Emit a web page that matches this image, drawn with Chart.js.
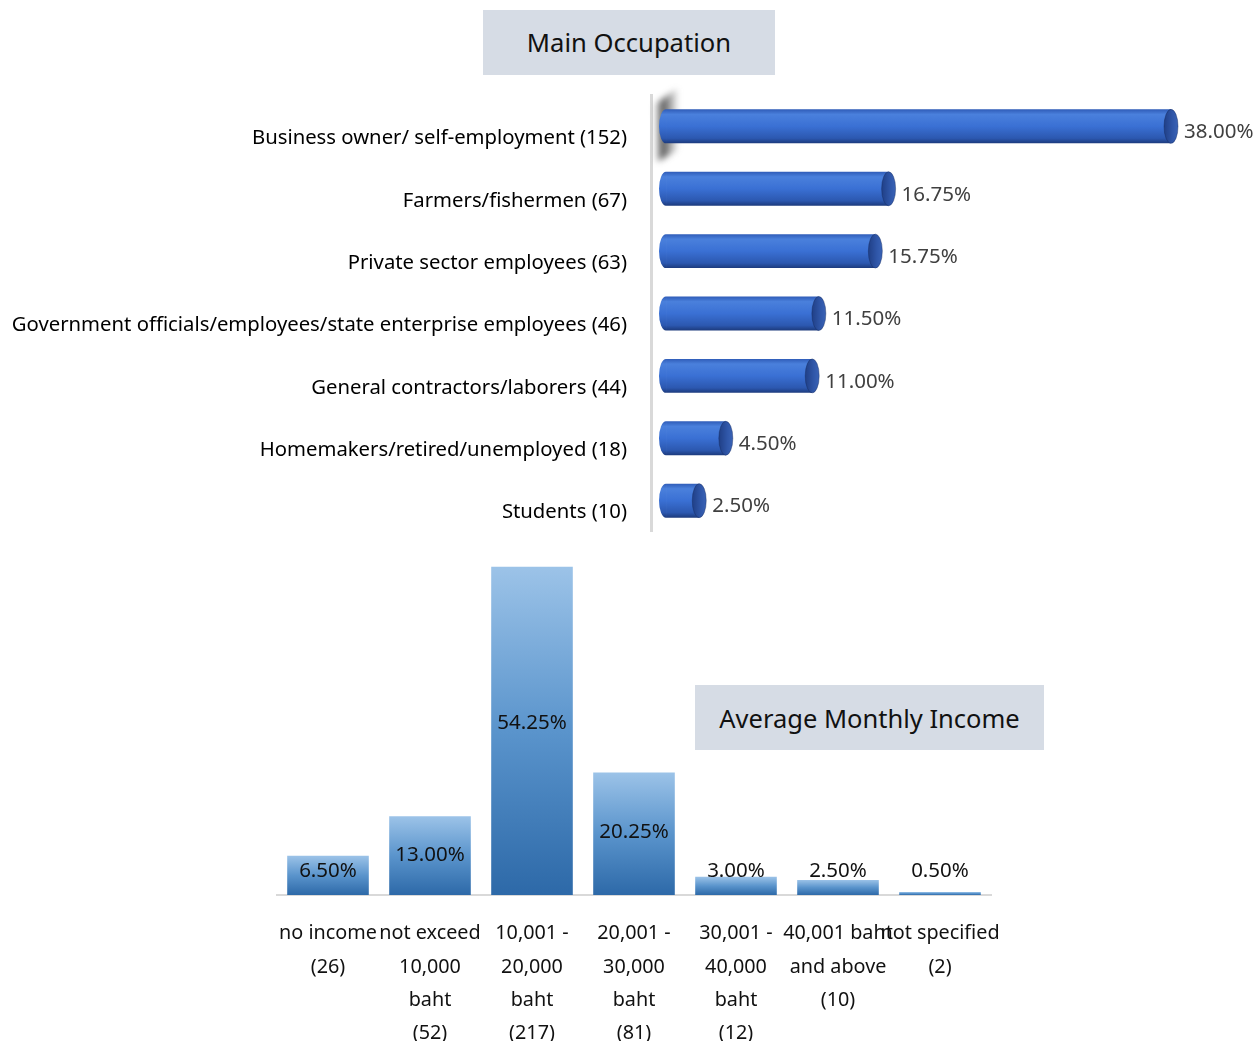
<!DOCTYPE html>
<html>
<head>
<meta charset="utf-8">
<script src="https://cdn.jsdelivr.net/npm/chart.js@4/dist/chart.umd.min.js"></script>
<style>
  body { margin: 0; background: #fff; font-family: "Noto Sans", sans-serif; }
  #wrap { position: relative; width: 1256px; height: 1041px; overflow: hidden; }
  .title-box {
    position: absolute; background: #d6dce5; color: #111;
    display: flex; align-items: center; justify-content: center;
  }
  #occTitle { left: 483px; top: 10px; width: 292px; height: 65px; font-size: 25.6px; }
  #incTitle { left: 695px; top: 685px; width: 349px; height: 65px; font-size: 25.5px; }
  #occWrap { position: absolute; left: 0; top: 59px; width: 1256px; height: 509px; }
  #incWrap { position: absolute; left: 0; top: 555px; width: 1256px; height: 486px; }
</style>
</head>
<body>
<div id="wrap">
  <div id="occWrap"><canvas id="occChart"></canvas></div>
  <div id="incWrap"><canvas id="incChart"></canvas></div>
  <div class="title-box" id="occTitle">Main Occupation</div>
  <div class="title-box" id="incTitle">Average Monthly Income</div>
</div>
<script>
"use strict";

// Main occupation (share of respondents, %)
const occLabels = [
  'Business owner/ self-employment (152)',
  'Farmers/fishermen (67)',
  'Private sector employees (63)',
  'Government officials/employees/state enterprise employees (46)',
  'General contractors/laborers (44)',
  'Homemakers/retired/unemployed (18)',
  'Students (10)'
];
const occValues = [38.00, 16.75, 15.75, 11.50, 11.00, 4.50, 2.50];

// Average monthly income (share of respondents, %)
const incLabels = [
  ['no income', '(26)'],
  ['not exceed', '10,000', 'baht', '(52)'],
  ['10,001 -', '20,000', 'baht', '(217)'],
  ['20,001 -', '30,000', 'baht', '(81)'],
  ['30,001 -', '40,000', 'baht', '(12)'],
  ['40,001 baht', 'and above', '(10)'],
  ['not specified', '(2)']
];
const incValues = [6.50, 13.00, 54.25, 20.25, 3.00, 2.50, 0.50];

const FONT = '"Noto Sans", sans-serif';

function cylinderFill(context) {
  const chart = context.chart;
  if (!chart.chartArea || !chart.scales.y) return '#3a6fd0';
  const y = chart.scales.y.getPixelForValue(context.dataIndex);
  const h = 17;
  const g = chart.ctx.createLinearGradient(0, y - h, 0, y + h);
  g.addColorStop(0, '#2f5cb8');
  g.addColorStop(0.15, '#4a80dc');
  g.addColorStop(0.5, '#3a70d4');
  g.addColorStop(0.85, '#2c58b0');
  g.addColorStop(1, '#1c3a7c');
  return g;
}

function columnFill(context) {
  const chart = context.chart;
  if (!chart.chartArea || !chart.scales.y) return '#5b9bd5';
  const yScale = chart.scales.y;
  const top = yScale.getPixelForValue(context.raw);
  const bottom = yScale.getPixelForValue(0);
  const g = chart.ctx.createLinearGradient(0, top, 0, bottom + 0.01);
  g.addColorStop(0, '#9cc3e8');
  g.addColorStop(0.5, '#5a94cc');
  g.addColorStop(1, '#2d69a8');
  return g;
}

// the grey 3D "wall" shadow behind the top bar
const wallShadow = {
  id: 'wallShadow',
  beforeDatasetsDraw(chart) {
    const ctx = chart.ctx;
    const bar = chart.getDatasetMeta(0).data[0];
    if (!bar) return;
    const x0 = bar.base - 11;
    const top = bar.y - 38;
    ctx.save();
    const g = ctx.createLinearGradient(x0, 0, x0 + 22, 0);
    g.addColorStop(0, 'rgba(60,60,60,0.1)');
    g.addColorStop(0.35, 'rgba(40,40,40,0.8)');
    g.addColorStop(1, 'rgba(90,90,90,0.15)');
    ctx.beginPath();
    ctx.moveTo(x0, top + 16);
    ctx.lineTo(x0 + 22, top);
    ctx.lineTo(x0 + 22, bar.y + 24);
    ctx.lineTo(x0 + 2, bar.y + 36);
    ctx.closePath();
    ctx.fillStyle = g;
    ctx.filter = 'blur(3px)';
    ctx.fill();
    ctx.restore();
  }
};

// caps on the cylinders + value labels
const cylinderDeco = {
  id: 'cylinderDeco',
  afterDatasetsDraw(chart) {
    const ctx = chart.ctx;
    const meta = chart.getDatasetMeta(0);
    ctx.save();
    meta.data.forEach((bar, i) => {
      const r = bar.height / 2;
      // left rounded end
      ctx.beginPath();
      ctx.ellipse(bar.base, bar.y, 7, r, 0, Math.PI / 2, Math.PI * 1.5);
      ctx.fillStyle = cylinderFill({ chart: chart, dataIndex: i });
      ctx.fill();
      // right end cap
      const g = ctx.createLinearGradient(bar.x - 7, 0, bar.x + 7, 0);
      g.addColorStop(0, '#203f86');
      g.addColorStop(0.6, '#2f56a8');
      g.addColorStop(1, '#3a63b6');
      ctx.beginPath();
      ctx.ellipse(bar.x, bar.y, 7, r, 0, 0, Math.PI * 2);
      ctx.fillStyle = g;
      ctx.fill();
      ctx.strokeStyle = 'rgba(20,40,90,0.4)';
      ctx.lineWidth = 1;
      ctx.stroke();

      ctx.font = '20.5px ' + FONT;
      ctx.fillStyle = '#404040';
      ctx.textAlign = 'left';
      ctx.textBaseline = 'middle';
      ctx.fillText(occValues[i].toFixed(2) + '%', bar.x + 13, bar.y + 6);
    });
    ctx.restore();
  }
};

const columnLabels = {
  id: 'columnLabels',
  afterDatasetsDraw(chart) {
    const ctx = chart.ctx;
    const meta = chart.getDatasetMeta(0);
    ctx.save();
    ctx.font = '20.5px ' + FONT;
    ctx.fillStyle = '#111';
    ctx.textAlign = 'center';
    ctx.textBaseline = 'middle';
    meta.data.forEach((bar, i) => {
      let y = bar.y + (bar.base - bar.y) * 0.47 + 2;
      if (y > bar.base - 24) y = bar.base - 24;
      ctx.fillText(incValues[i].toFixed(2) + '%', bar.x, y);
    });
    ctx.restore();
  }
};

new Chart(document.getElementById('occChart'), {
  type: 'bar',
  data: {
    labels: occLabels,
    datasets: [{
      data: occValues,
      backgroundColor: cylinderFill,
      borderWidth: 0,
      barPercentage: 0.545,
      categoryPercentage: 1
    }]
  },
  options: {
    indexAxis: 'y',
    responsive: true,
    maintainAspectRatio: false,
    animation: false,
    layout: { padding: { top: 0, bottom: 0, right: 77 } },
    plugins: { legend: { display: false }, tooltip: { enabled: false } },
    scales: {
      x: { display: false, min: -1.13, max: 38.6 },
      y: {
        grid: { display: false, drawTicks: false },
        border: { display: true, color: '#d9d9d9', width: 3 },
        ticks: {
          color: '#000',
          padding: 24,
          labelOffset: 12,
          font: { family: FONT, size: 20.3 }
        },
        afterFit: s => { s.width = 651; }
      }
    }
  },
  plugins: [wallShadow, cylinderDeco]
});

new Chart(document.getElementById('incChart'), {
  type: 'bar',
  data: {
    labels: incLabels,
    datasets: [{
      data: incValues,
      backgroundColor: columnFill,
      borderWidth: 0,
      barPercentage: 1,
      categoryPercentage: 0.8
    }]
  },
  options: {
    responsive: true,
    maintainAspectRatio: false,
    animation: false,
    layout: { padding: { left: 277, right: 265 } },
    plugins: { legend: { display: false }, tooltip: { enabled: false } },
    scales: {
      y: { display: false, min: 0, max: 56.2 },
      x: {
        grid: { display: false, drawTicks: false },
        border: { display: true, color: '#d9d9d9', width: 2 },
        ticks: {
          color: '#111',
          padding: 22,
          maxRotation: 0,
          autoSkip: false,
          font: { family: FONT, size: 19.8, lineHeight: 1.68 }
        },
        afterFit: s => { s.height = 146; }
      }
    }
  },
  plugins: [columnLabels]
});
</script>
</body>
</html>
